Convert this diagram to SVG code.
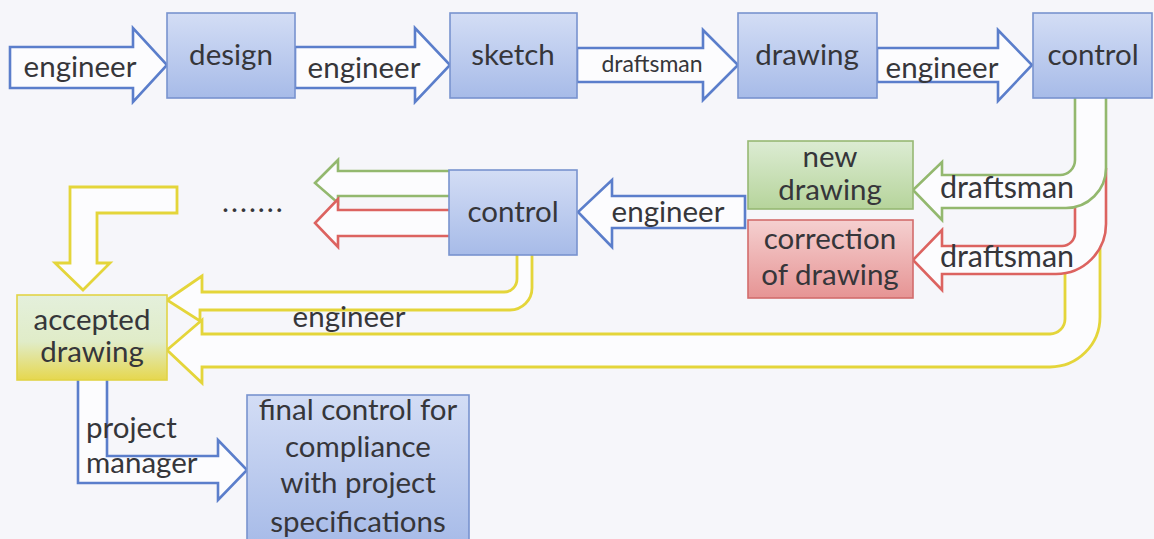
<svg xmlns="http://www.w3.org/2000/svg" width="1154" height="539" viewBox="0 0 1154 539">
  <defs>
    <linearGradient id="gBlue" x1="0" y1="0" x2="0" y2="1">
      <stop offset="0" stop-color="#d3ddf5"/>
      <stop offset="1" stop-color="#a7bbe8"/>
    </linearGradient>
    <linearGradient id="gGreen" x1="0" y1="0" x2="0" y2="1">
      <stop offset="0" stop-color="#dcecd3"/>
      <stop offset="1" stop-color="#b6d49b"/>
    </linearGradient>
    <linearGradient id="gRed" x1="0" y1="0" x2="0" y2="1">
      <stop offset="0" stop-color="#f5d0d0"/>
      <stop offset="1" stop-color="#e69494"/>
    </linearGradient>
    <linearGradient id="gYellow" x1="0" y1="0" x2="0" y2="1">
      <stop offset="0" stop-color="#e4f0dc"/>
      <stop offset="0.55" stop-color="#e0ecc8"/>
      <stop offset="1" stop-color="#e6d74e"/>
    </linearGradient>
  </defs>
  <style>
    .bg { fill: #f6f6fa; }
    .txt { font-family: Lato, "Liberation Sans", sans-serif; font-size: 29.5px; fill: #36363a; text-anchor: middle; }
    .small { font-size: 23px; }
    .mid { font-size: 30.5px; }
    .left { text-anchor: start; }
    .box-blue { fill: url(#gBlue); stroke: #7893cf; stroke-width: 1.6; }
    .box-green { fill: url(#gGreen); stroke: #97b874; stroke-width: 1.6; }
    .box-red { fill: url(#gRed); stroke: #d36c6c; stroke-width: 1.6; }
    .box-yellow { fill: url(#gYellow); stroke: #e2d446; stroke-width: 1.6; }
    .ar { fill: #fcfcfe; stroke-width: 2.6; stroke-linejoin: miter; }
    .ar-blue { stroke: #5b7ecb; }
    .ar-green { stroke: #93b86e; }
    .ar-red { stroke: #dc6360; }
    .ar-yellow { stroke: #e4d53a; stroke-width: 2.8; }
  </style>

  <rect class="bg" x="0" y="0" width="1154" height="539"/>

  <g id="connectors">
    <!-- top row block arrows -->
    <path class="ar ar-blue" d="M10,47 H133 V28 L167,65 L133,102 V88 H10 Z"/>
    <path class="ar ar-blue" d="M295,47 H415 V28 L450,65 L415,102 V88 H295 Z"/>
    <path class="ar ar-blue" d="M577,48 H703 V30 L738,65 L703,100 V82 H577 Z"/>
    <path class="ar ar-blue" d="M877,48 H998 V30 L1032,65 L998,101 V82 H877 Z"/>

    <!-- u-turn arrows leaving the top control box -->
    <path class="ar ar-yellow" d="M1065,273 V319 A15,15 0 0 1 1050,334 H202 V320 L167,350 L202,383 V367 H1050 A50,50 0 0 0 1100,317 V248"/>
    <path class="ar ar-red" d="M1075,207 V233 A13,13 0 0 1 1062,246 H942 V230 L913,260 L942,290 V274 H1056 A50,50 0 0 0 1106,224 V168"/>
    <path class="ar ar-green" d="M1075,98 V160 A15,15 0 0 1 1060,175 H942 V162 L913,190 L942,220 V208 H1066 A40,40 0 0 0 1106,168 V98"/>

    <!-- middle row -->
    <path class="ar ar-blue" d="M745,196 H612 V180 L578,212 L612,247 V228 H745 Z"/>
    <path class="ar ar-green" d="M449,171 H338 V160 L315,183 L338,203 V196 H449"/>
    <path class="ar ar-red" d="M449,210 H338 V199 L315,223 L338,247 V236 H449"/>

    <!-- yellow return from the middle control box -->
    <path class="ar ar-yellow" d="M517,255 V279 A13,13 0 0 1 504,292 H202 V276 L167,300 L200,321 V310 H510 A22,22 0 0 0 532,288 V255"/>

    <!-- bent arrow down into accepted drawing -->
    <path class="ar ar-yellow" d="M70,263 V187 H177 V213 H97 V263 H110 L83,290 L55,263 Z"/>

    <!-- bent arrow to final control -->
    <path class="ar ar-blue" d="M78,380 V483 H218 V500 L247,470 L218,440 V456 H107 V380"/>

    <!-- connector labels -->
    <text class="txt" x="80" y="77">engineer</text>
    <text class="txt" x="364" y="78">engineer</text>
    <text class="txt small" x="652" y="72">draftsman</text>
    <text class="txt" x="942" y="78">engineer</text>
    <text class="txt" x="668" y="222">engineer</text>
    <text class="txt mid" x="1007" y="198">draftsman</text>
    <text class="txt mid" x="1007" y="267">draftsman</text>
    <text class="txt" x="349" y="327">engineer</text>
    <text class="txt left" x="86" y="438">project</text>
    <text class="txt left" x="86" y="473">manager</text>
  </g>

  <g id="n-design">
    <rect class="box-blue" x="167" y="13" width="128" height="85"/>
    <text class="txt" x="231" y="65">design</text>
  </g>
  <g id="n-sketch">
    <rect class="box-blue" x="450" y="13" width="127" height="85"/>
    <text class="txt" x="513" y="65">sketch</text>
  </g>
  <g id="n-drawing">
    <rect class="box-blue" x="738" y="13" width="139" height="85"/>
    <text class="txt" x="807" y="65">drawing</text>
  </g>
  <g id="n-control-top">
    <rect class="box-blue" x="1033" y="13" width="119" height="85"/>
    <text class="txt" x="1093" y="65">control</text>
  </g>
  <g id="n-control-mid">
    <rect class="box-blue" x="449" y="170" width="128" height="85"/>
    <text class="txt" x="513" y="222">control</text>
  </g>
  <g id="n-more">
    <text class="txt left" x="222" y="212" letter-spacing="2">.......</text>
  </g>
  <g id="n-new-drawing">
    <rect class="box-green" x="748" y="141" width="165" height="68"/>
    <text class="txt" x="830" y="167">new</text>
    <text class="txt" x="830" y="200">drawing</text>
  </g>
  <g id="n-correction">
    <rect class="box-red" x="748" y="220" width="165" height="78"/>
    <text class="txt" x="830" y="249">correction</text>
    <text class="txt" x="830" y="285">of drawing</text>
  </g>
  <g id="n-accepted">
    <rect class="box-yellow" x="17" y="295" width="150" height="85"/>
    <text class="txt" x="92" y="330">accepted</text>
    <text class="txt" x="92" y="362">drawing</text>
  </g>
  <g id="n-final">
    <rect class="box-blue" x="247" y="395" width="222" height="150"/>
    <text class="txt" x="358" y="420">final control for</text>
    <text class="txt" x="358" y="457">compliance</text>
    <text class="txt" x="358" y="493">with project</text>
    <text class="txt" x="358" y="532">specifications</text>
  </g>
</svg>
